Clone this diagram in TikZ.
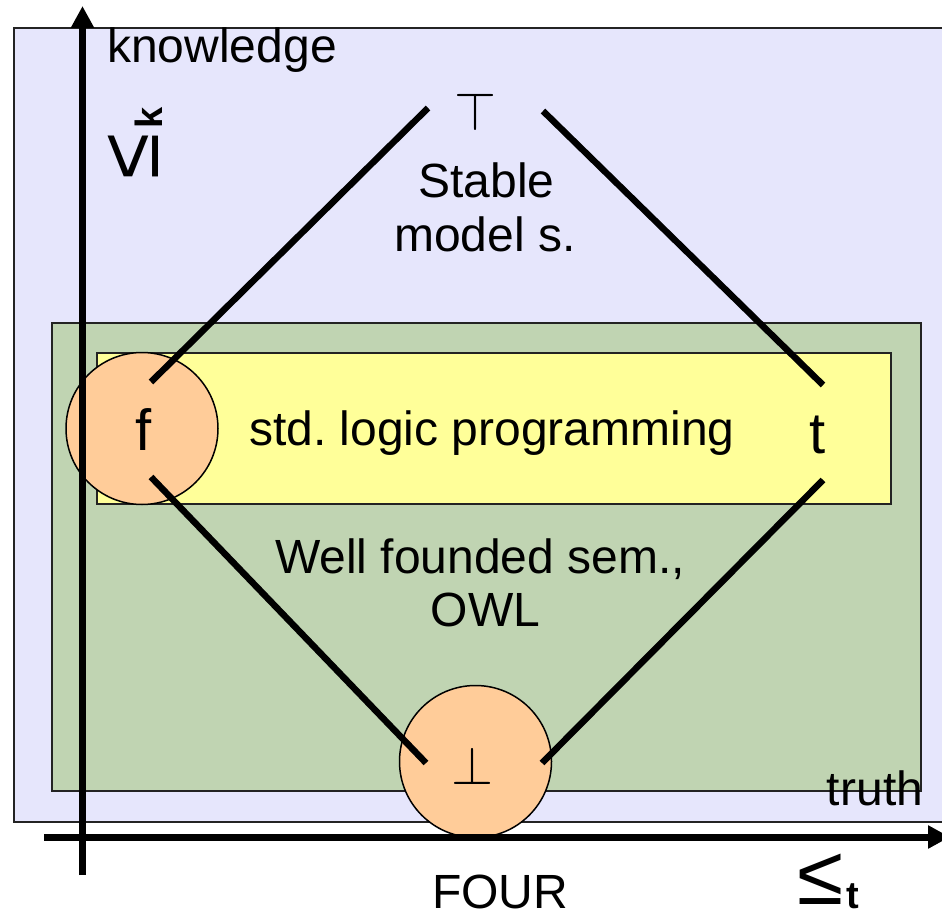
\documentclass[tikz,border=0pt]{standalone}
\usepackage{graphicx}
\usepackage{fontspec}
\setmainfont{Liberation Sans}
\usetikzlibrary{arrows.meta}
\definecolor{lav}{RGB}{230,230,252}
\definecolor{grn}{RGB}{192,212,178}
\definecolor{yel}{RGB}{255,255,153}
\definecolor{peach}{RGB}{255,204,153}
\definecolor{edgec}{RGB}{35,35,35}
\frenchspacing
\begin{document}
\begin{tikzpicture}[x=1pt,y=-1pt,
  panel/.style={draw=edgec, line width=1.6pt},
  lbl/.style={font=\fontsize{48}{54}\selectfont, inner sep=0pt, anchor=base},
  big/.style={font=\fontsize{58}{60}\selectfont, inner sep=0pt, anchor=base},
  sym/.style={inner sep=0pt},
  circ/.style={circle, draw=black, line width=1.5pt, fill=peach, minimum size=152pt, inner sep=0pt},
  link/.style={line width=6.5pt},
  axis/.style={line width=7pt, -{Triangle[length=22pt,width=22pt]}}]
\useasboundingbox (0,0) rectangle (942,917);
\fill[white] (0,0) rectangle (942,917);
% panels
\draw[panel, fill=lav] (14,28) rectangle (960,822);
\draw[panel, fill=grn] (52,323) rectangle (921,791);
\draw[panel, fill=yel] (97,353) rectangle (891,504);
% circles
\node[circ] (fc) at (142,428.5) {};
\node[circ] (bc) at (475.5,761.5) {};
% connector ends
\coordinate (fNE) at (151,382);
\coordinate (topSW) at (428,108);
\coordinate (topSE) at (543,111);
\coordinate (tNW) at (823,385);
\coordinate (fSE) at (151,477);
\coordinate (botNW) at (426,763);
\coordinate (tSW) at (823,480);
\coordinate (botNE) at (542,763);
\draw[link] (fNE) -- (topSW);
\draw[link] (topSE) -- (tNW);
\draw[link] (fSE) -- (botNW);
\draw[link] (tSW) -- (botNE);
% axes
\coordinate (yo) at (82.5,875);
\coordinate (ye) at (82.5,6);
\coordinate (xo) at (44,837);
\coordinate (xe) at (950,837);
\draw[axis] (yo) -- (ye);
\draw[axis] (xo) -- (xe);
% texts
\node[sym] (top) at (475.5,111.5) {\scalebox{5.4}{$\top$}};
\node[sym] (bot) at (472,765.5) {\scalebox{5.4}{$\bot$}};
\node[big] (f) at (144,450) {f};
\node[big] (t) at (818,453) {t};
\node[lbl] (stable) at (486.5,198) {Stable};
\node[lbl] (model) at (485,252) {model s.};
\node[lbl] (std) at (492,445) {std. logic programming};
\node[lbl] (wf) at (480,573) {Well founded sem.,};
\node[lbl] (owl) at (485.5,626) {OWL};
\node[lbl] (know) at (222,63) {knowledge};
\node[lbl] (truth) at (875,805) {truth};
\node[lbl] (four) at (500,908) {FOUR};
\node[inner sep=0pt, anchor=base] (leqt) at (828,904)
  {\raisebox{0pt}[\height][0pt]{{\fontsize{84}{84}\selectfont ≤}\kern3pt\raisebox{-4pt}{\fontsize{38}{38}\selectfont\bfseries t}}};
\node[inner sep=0pt, rotate=90] (leqk) at (135,143.5)
  {{\fontsize{84}{84}\selectfont ≤}\kern5pt\raisebox{-4pt}{\fontsize{38}{38}\selectfont\bfseries k}};
\end{tikzpicture}
\end{document}
